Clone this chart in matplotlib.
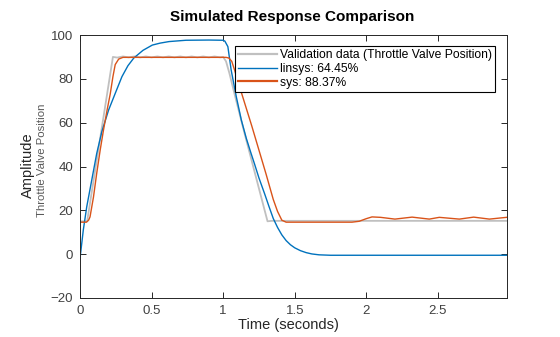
import matplotlib
matplotlib.use("Agg")
import matplotlib.pyplot as plt

plt.rcParams['font.family'] = ['Liberation Sans', 'DejaVu Sans']

# Validation data (Throttle Valve Position)
t_val = [0.0, 0.05, 0.23, 0.26, 0.30, 0.34, 0.38, 0.42, 0.46, 0.50, 0.54, 0.58, 0.62,
         0.66, 0.70, 0.74, 0.78, 0.82, 0.86, 0.90, 0.94, 0.98, 1.00, 1.02, 1.044, 1.08,
         1.15, 1.31, 1.34, 2.98]
y_val = [15.0, 15.0, 90.0, 89.7, 90.2, 89.8, 90.2, 89.8, 90.2, 89.8, 90.2, 89.8, 90.2,
         89.8, 90.2, 89.8, 90.2, 89.8, 90.2, 89.8, 90.2, 89.8, 90.0, 88.0, 82.5, 73.0,
         55.0, 15.0, 15.2, 15.2]

# linsys: 64.45%
t_lin = [0.0, 0.023, 0.047, 0.082, 0.117, 0.153, 0.20, 0.25, 0.293, 0.335, 0.376, 0.44,
         0.505, 0.56, 0.622, 0.74, 0.90, 1.0, 1.012, 1.033, 1.056, 1.092, 1.127, 1.162,
         1.19, 1.22, 1.25, 1.29, 1.32, 1.35, 1.38, 1.41, 1.44, 1.47, 1.50, 1.54, 1.58,
         1.62, 1.67, 1.75, 2.98]
y_lin = [-2.0, 11.0, 21.6, 33.8, 46.0, 56.0, 65.8, 74.0, 81.0, 86.0, 89.5, 93.0,
         95.4, 96.3, 97.0, 97.6, 97.7, 97.6, 97.2, 94.7, 84.0, 71.8, 61.2, 52.8,
         47.0, 41.0, 34.8, 27.5, 21.8, 16.3, 12.2, 8.8, 6.2, 4.3, 2.9, 1.6, 0.7,
         0.1, -0.3, -0.5, -0.5]

# sys: 88.37%
t_sys = [0.0, 0.045, 0.06, 0.07, 0.094, 0.117, 0.141, 0.164, 0.19, 0.211, 0.23, 0.246,
         0.27, 0.30, 1.02, 1.04, 1.06, 1.08, 1.10, 1.15, 1.20, 1.25, 1.30, 1.35, 1.38,
         1.41, 1.44, 1.90, 1.95, 2.00, 2.04, 2.10, 2.20, 2.32, 2.44, 2.51, 2.65, 2.75,
         2.86, 2.98]
y_sys = [14.6, 14.6, 15.5, 17.0, 26.0, 37.0, 47.5, 56.6, 66.0, 73.0, 81.0, 86.5,
         89.0, 89.8, 89.8, 89.5, 88.0, 84.0, 79.5, 69.0, 58.5, 47.5, 36.5, 25.0, 19.5,
         15.5, 14.6, 14.6, 15.0, 16.2, 17.0, 16.8, 16.0, 16.9, 16.0, 16.8, 16.0, 16.9,
         16.0, 16.8]

labels = ['Validation data (Throttle Valve Position)', 'linsys: 64.45%', 'sys: 88.37%']
x_ticks = [0, 0.5, 1, 1.5, 2, 2.5]
x_tick_labels = ['0', '0.5', '1', '1.5', '2', '2.5']
y_ticks = [-20, 0, 20, 40, 60, 80, 100]

W, H = 560, 337
fig = plt.figure(figsize=(W / 100, H / 100), dpi=100)
ax = fig.add_axes([80 / W, 1 - 298 / H, (507 - 80) / W, (298 - 35) / H])

axc = '#262626'
ax.plot(t_val, y_val, color='#C0C0C0', lw=1.3, label=labels[0])
ax.plot(t_lin, y_lin, color='#0072BD', lw=1.0, label=labels[1])
ax.plot(t_sys, y_sys, color='#D95319', lw=1.0, label=labels[2])

ax.set_xlim(0, 2.983)
ax.set_ylim(-20, 100)
ax.set_xticks(x_ticks)
ax.set_xticklabels(x_tick_labels)
ax.set_yticks(y_ticks)
ax.tick_params(direction='in', top=True, right=True, length=4, width=0.7,
               colors=axc, labelsize=9.5, pad=5)
for lab in ax.get_xticklabels() + ax.get_yticklabels():
    lab.set_color('#404040')
for s in ax.spines.values():
    s.set_color(axc)
    s.set_linewidth(0.7)

leg = ax.legend(loc='upper left', bbox_to_anchor=(0.363, 0.958), borderaxespad=0,
                fancybox=False, framealpha=1, edgecolor='black', fontsize=8.7,
                handlelength=3.2, handletextpad=0.25, borderpad=0.25, labelspacing=0.15)
leg.get_frame().set_linewidth(0.8)
for h in leg.get_lines():
    h.set_linewidth(1.0 if h.get_color() == '#0072BD' else 1.6)
for txt in leg.get_texts():
    txt.set_color('black')

fig.text(292.5 / W, 1 - 17 / H, 'Simulated Response Comparison', ha='center', va='center',
         fontsize=11, fontweight='bold', color='black')
fig.text(288 / W, 1 - 325 / H, 'Time (seconds)', ha='center', va='center',
         fontsize=10.5, color=axc)
fig.text(28 / W, 1 - 165 / H, 'Amplitude', ha='center', va='center', rotation=90,
         fontsize=10.5, color=axc)
fig.text(42 / W, 1 - 160 / H, 'Throttle Valve Position', ha='center', va='center',
         rotation=90, fontsize=8.2, color='#595959')

fig.savefig('out.png', dpi=100)
